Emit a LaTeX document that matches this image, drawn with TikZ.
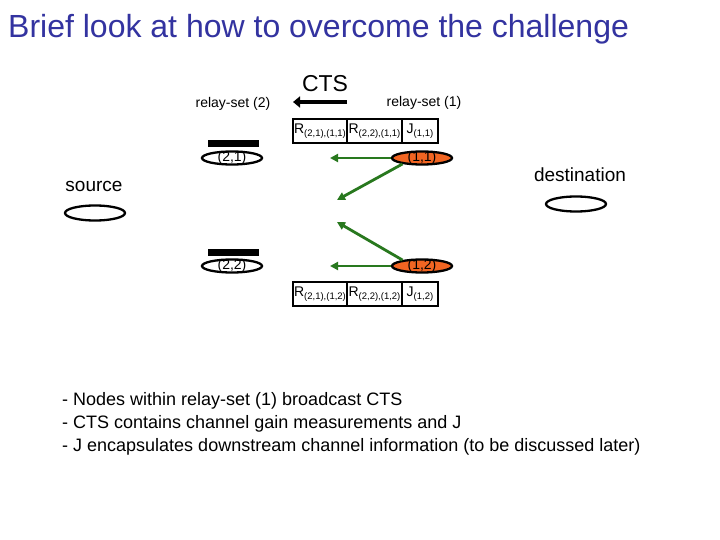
\documentclass[tikz,border=0pt]{standalone}
\usepackage{fontspec}
\setmainfont{Liberation Sans}
\usetikzlibrary{shapes.geometric,arrows.meta}
\definecolor{titleblue}{RGB}{51,51,160}
\definecolor{relayorange}{RGB}{242,101,34}
\definecolor{arrowgreen}{RGB}{40,120,30}
\newcommand{\fs}[1]{\fontsize{#1}{#1}\selectfont}
\newcommand{\Rsub}[2]{#1\raisebox{-3.5pt}{\fs{9.5}#2}}
\begin{document}
\begin{tikzpicture}[x=1pt,y=-1pt,
  oval/.style={ellipse,draw=black,line width=2.3pt,minimum width=60pt,minimum height=13pt,inner sep=0pt,fill=white},
  hot/.style={oval,fill=relayorange},
  lbl/.style={inner sep=0pt,font=\fs{14}},
  bar/.style={rectangle,fill=black,inner sep=0pt,minimum width=51pt,minimum height=7pt},
  cell/.style={rectangle,draw=black,line width=1.8pt,minimum height=24pt,inner sep=0pt,font=\fs{14}},
  garrow/.style={draw=arrowgreen,line width=2.8pt,-{Triangle[length=8pt,width=8pt]}},
  txt/.style={inner sep=0pt,anchor=base west,font=\fs{18}}]
\useasboundingbox (0,0) rectangle (720,540);
\fill[white] (0,0) rectangle (720,540);

\node[inner sep=0pt,anchor=base west,font=\fs{32},text=titleblue] (title) at (8,38) {Brief look at how to overcome the challenge};

% CTS label and arrow
\node[inner sep=0pt,font=\fs{23}] (cts) at (325,84) {CTS};
\coordinate (ctsA) at (347,102);
\coordinate (ctsB) at (293,102);
\draw[line width=4.5pt,-{Triangle[length=7pt,width=11pt]}] (ctsA) -- (ctsB);

\node[inner sep=0pt,font=\fs{14}] (rs2) at (233,104) {relay-set (2)};
\node[inner sep=0pt,font=\fs{14}] (rs1) at (424,103) {relay-set (1)};

% top boxes
\node[cell,minimum width=54pt] (b1) at (320,131) {\Rsub{R}{(2,1),(1,1)}};
\node[cell,minimum width=55pt] (b2) at (374.5,131) {\Rsub{R}{(2,2),(1,1)}};
\node[cell,minimum width=36pt] (b3) at (420,131) {\Rsub{J}{(1,1)}};

% bottom boxes
\node[cell,minimum width=54pt] (c1) at (320,294) {\Rsub{R}{(2,1),(1,2)}};
\node[cell,minimum width=55pt] (c2) at (374.5,294) {\Rsub{R}{(2,2),(1,2)}};
\node[cell,minimum width=36pt] (c3) at (420,294) {\Rsub{J}{(1,2)}};

% relay nodes
\node[bar] (bar21) at (233.5,143.5) {};
\node[oval] (n21) at (232,158) {};
\node[lbl] at (n21) {(2,1)};
\node[bar] (bar22) at (233,252) {};
\node[oval] (n22) at (232,266) {};
\node[lbl] at (n22) {(2,2)};
\node[hot] (n11) at (422,158) {};
\node[lbl] at (n11) {(1,1)};
\node[hot] (n12) at (422,266) {};
\node[lbl] at (n12) {(1,2)};

% source / destination
\node[inner sep=0pt,font=\fs{19}] (srcl) at (94,186) {source};
\node[oval,minimum height=15pt] (src) at (95,213) {};
\node[inner sep=0pt,font=\fs{19}] (dstl) at (580,175) {destination};
\node[oval,minimum height=15pt] (dst) at (576,204) {};

% green arrows
\coordinate (e11) at (330,158);
\coordinate (d11) at (337,200);
\coordinate (e12) at (330,266);
\coordinate (d12) at (337,222);
\draw[garrow] (n11.west) -- (e11);
\draw[garrow] (n11.197) -- (d11);
\draw[garrow] (n12.west) -- (e12);
\draw[garrow] (n12.163) -- (d12);

% bullet text
\node[txt] (t1) at (62,405) {- Nodes within relay-set (1) broadcast CTS};
\node[txt] (t2) at (62,428) {- CTS contains channel gain measurements and J};
\node[txt] (t3) at (62,451) {- J encapsulates downstream channel information (to be discussed later)};
\end{tikzpicture}
\end{document}
